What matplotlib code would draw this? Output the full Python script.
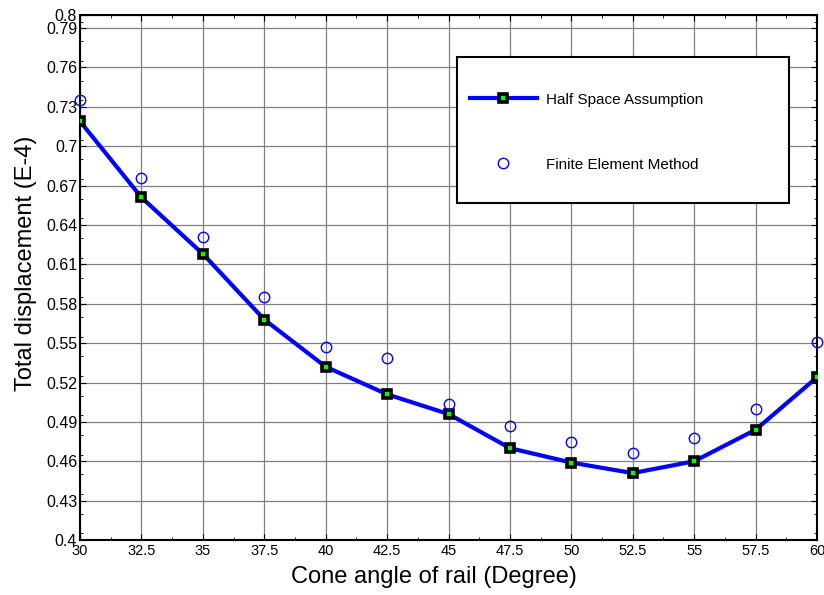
import numpy as np
import matplotlib.pyplot as plt
from matplotlib.patches import Rectangle
from matplotlib.ticker import MultipleLocator

plt.rcParams['font.family'] = ['Liberation Sans', 'DejaVu Sans']

cone_angle = [30, 32.5, 35, 37.5, 40, 42.5, 45, 47.5, 50, 52.5, 55, 57.5, 60]
half_space = [0.719, 0.661, 0.618, 0.568, 0.532, 0.511, 0.496, 0.470, 0.459, 0.451, 0.460, 0.484, 0.524]
fem = [0.735, 0.676, 0.631, 0.585, 0.547, 0.539, 0.504, 0.487, 0.475, 0.466, 0.478, 0.500, 0.551]
y_ticks = [0.4, 0.43, 0.46, 0.49, 0.52, 0.55, 0.58, 0.61, 0.64, 0.67, 0.7, 0.73, 0.76, 0.79, 0.8]

fig = plt.figure(figsize=(8.24, 5.95), dpi=100)
ax = fig.add_axes([0.0971, 0.0924, 0.8944, 0.8824])

ax.plot(cone_angle, half_space, '-s', color='blue', lw=3, ms=5.5,
        mfc='lime', mec='black', mew=2.6, label='Half Space Assumption', zorder=3)
ax.plot(cone_angle, fem, 'o', color='blue', ms=7.5, mfc='none', mew=1,
        label='Finite Element Method', zorder=3, clip_on=False)

ax.set_xlim(30, 60)
ax.set_ylim(0.4, 0.8)
ax.set_xticks(cone_angle)
ax.set_xticklabels(['%g' % v for v in cone_angle])
ax.set_yticks(y_ticks)
ax.set_yticklabels(['%g' % v for v in y_ticks])
ax.xaxis.set_minor_locator(MultipleLocator(1.25))
ax.yaxis.set_minor_locator(MultipleLocator(0.015))
ax.tick_params(which='both', direction='in', top=True, right=True)
ax.tick_params(axis='y', labelsize=11.5, pad=2)
ax.tick_params(axis='x', labelsize=10.5, pad=3)
ax.tick_params(which='major', length=4)
ax.tick_params(which='minor', length=2)
ax.grid(True, color='#808080', lw=0.9)
for s in ax.spines.values():
    s.set_linewidth(1.5)

ax.set_xlabel('Cone angle of rail (Degree)', fontsize=17)
ax.set_ylabel('Total displacement (E-4)', fontsize=17)
ax.xaxis.set_label_coords(0.4803, -0.049)
ax.yaxis.set_label_coords(-0.059, 0.5276)

# legend box drawn separately so the padding can match the original
ax.add_patch(Rectangle((0.5115, 0.642), 0.45, 0.278, transform=ax.transAxes,
                       facecolor='white', edgecolor='black', lw=1.5, zorder=4))
leg = ax.legend(loc='upper left', bbox_to_anchor=(0.529, 0.852), frameon=False,
                borderpad=0, borderaxespad=0, fontsize=11, labelspacing=3.33,
                handlelength=4.4, handletextpad=0.6)
leg.set_zorder(5)

plt.savefig('out.png', dpi=100)
